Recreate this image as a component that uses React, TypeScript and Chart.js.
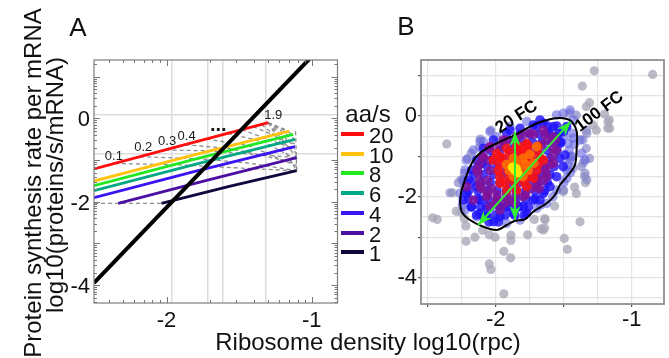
import React, { useEffect, useRef } from 'react';
import { Chart, registerables } from 'chart.js';

Chart.register(...registerables);

const FONT = '"Liberation Sans", Arial, Helvetica, sans-serif';
type P = [number, number];

// ---------------- Panel A data ----------------
const rateLabels = ['20', '10', '8', '6', '4', '2', '1'];
const rateColors = ['#ff0d0d', '#ffc20e', '#22e822', '#00a884', '#3a14f2', '#4b0fa2', '#12073c'];

const curveAA20: P[] = [[-2.5, -1.215], [-1.899, -0.655], [-1.299, -0.104]];
const curveAA10: P[] = [[-2.5, -1.504], [-1.831, -0.894], [-1.155, -0.304]];
const curveAA8: P[] = [[-2.5, -1.613], [-1.811, -0.986], [-1.127, -0.385]];
const curveAA6: P[] = [[-2.5, -1.735], [-1.811, -1.108], [-1.115, -0.505]];
const curveAA4: P[] = [[-2.5, -1.903], [-1.811, -1.276], [-1.115, -0.68]];
const curveAA2: P[] = [[-2.333, -2.041], [-1.724, -1.49], [-1.103, -0.94]];
const curveAA1: P[] = [[-2.035, -2.041], [-1.568, -1.633], [-1.103, -1.256]];
const curvesA = [curveAA20, curveAA10, curveAA8, curveAA6, curveAA4, curveAA2, curveAA1];

const isoLines: P[][] = [
  [[-2.5, -2.041], [-2.035, -2.041]],
  [[-2.356, -1.083], [-1.918, -1.113], [-1.481, -1.195], [-1.103, -1.256]],
  [[-2.181, -0.92], [-1.772, -0.971], [-1.432, -1.073], [-1.103, -1.256]],
  [[-2.006, -0.757], [-1.724, -0.777], [-1.384, -0.869], [-1.103, -0.94]],
  [[-1.87, -0.634], [-1.578, -0.716], [-1.335, -0.889], [-1.103, -1.093]],
  [[-1.724, -0.497], [-1.432, -0.655], [-1.103, -1.144]],
  [[-1.578, -0.362], [-1.335, -0.553], [-1.103, -0.991]],
  [[-1.481, -0.273], [-1.115, -0.736]],
  [[-1.403, -0.201], [-1.115, -0.614]],
  [[-1.345, -0.147], [-1.103, -0.838]],
  [[-1.299, -0.104], [-1.155, -0.304]],
  [[-1.299, -0.104], [-1.127, -0.385]],
  [[-1.299, -0.104], [-1.115, -0.505]],
  [[-1.299, -0.104], [-1.115, -0.68]],
  [[-1.299, -0.104], [-1.103, -0.94]],
  [[-1.299, -0.104], [-1.103, -1.256]],
  [[-1.111, -0.308], [-1.103, -1.256]],
];
const limitLine: P[] = [[-2.5, -3.947], [-0.994, 1.503]];

const isoLabels = ['0.1', '0.2', '0.3', '0.4', '...', '1.9'];
const isoLabelX = [-2.363, -2.161, -1.996, -1.862, -1.644, -1.265];
const isoLabelY = [-0.921, -0.705, -0.561, -0.441, -0.173, 0.079];

const xLabelsA = [-2, -1];
const yLabelsA = [0, -2, -4];
const xGridA = [-1.966, -1.713, -1.614, -1.315];
const yGridA = [0.079, -0.839];
const minorSteps = [2, 3, 4, 5, 6, 7, 8, 9];

// ---------------- Panel B data ----------------
const grayFar: P[] = [
  [-1.275, 1.12], [-0.846, 1.03], [-1.363, 0.74], [-2.36, -0.69],
  [-1.31, 0.33], [-1.334, 0.23], [-1.174, -0.14], [-1.162, -0.305], [-1.26, -0.35], [-1.285, -0.22],
  [-1.177, -0.3], [-1.165, -0.1], [-1.2, 0.05],
  [-1.503, -1.87], [-1.38, -2.62], [-1.496, -3.03], [-1.473, -3.3], [-1.65, -2.82], [-1.637, -2.57],
  [-1.42, -1.76], [-1.407, -1.92], [-1.34, -1.65], [-1.566, -2.23], [-1.64, -2.54], [-1.64, -2.77],
  [-2.463, -2.52], [-2.43, -2.56], [-2.29, -2.36], [-2.317, -1.9], [-2.218, -2.72], [-2.218, -3.1],
  [-2.152, -3.0], [-2.047, -2.94], [-2.005, -3.0], [-1.888, -2.95], [-1.888, -3.08], [-1.765, -2.94],
  [-1.94, -3.35], [-1.89, -3.51], [-2.047, -3.66], [-2.035, -3.8], [-1.94, -4.4], [-1.716, -2.56],
  [-1.667, -2.79], [-2.096, -2.83], [-2.23, -2.54], [-2.254, -2.38],
];
const grayNear: P[] = [
  [-1.407, 0.02], [-1.456, 0.07], [-1.334, -0.35], [-1.358, -0.59], [-1.334, -0.8], [-1.31, -1.05],
  [-1.37, -1.25], [-1.346, -1.5], [-1.33, -0.43], [-1.356, -1.16], [-1.343, -1.42], [-1.33, -1.58],
  [-1.45, -1.0], [-1.43, -1.29], [-1.5, -1.84],
  [-2.035, -0.35], [-2.113, -0.57], [-2.18, -0.92], [-2.12, -0.78], [-2.206, -1.05], [-2.23, -1.42],
  [-2.254, -1.58], [-2.238, -1.58], [-2.275, -1.65], [-2.336, -1.9],
];
const lavenderPts: P[] = [
  [-1.478, -1.337], [-1.453, -1.089], [-1.466, -0.677], [-1.441, -0.429], [-1.478, -1.543], [-1.552, -1.832],
  [-1.625, -2.162], [-1.699, -2.285], [-1.821, -2.574], [-1.919, -2.657], [-2.14, -2.492], [-2.226, -2.327],
  [-2.262, -1.914], [-2.164, -0.842], [-2.091, -0.635], [-1.993, -0.512], [-1.895, -0.264], [-1.772, -0.14],
  [-1.429, -0.099], [-2.226, -1.337], [-2.238, -1.584], [-2.214, -1.089], [-1.503, 0.066], [-1.552, 0.025],
  [-1.453, 0.148], [-1.38, -0.594], [-1.368, -0.924], [-1.343, -1.09], [-2.115, -0.635], [-2.042, -0.388],
  [-1.46, -0.85], [-1.47, -1.2], [-1.5, -0.5], [-1.48, -0.3], [-1.42, -0.7], [-1.44, -1.0],
  [-1.43, -0.55], [-1.45, -1.4], [-1.5, -1.65], [-1.58, -2.0], [-1.67, -2.2], [-2.245, -2.2], [-2.23, -1.75],
];
const bluePts: P[] = [
  [-1.723, -0.223], [-1.65, -0.182], [-1.576, -0.264], [-1.503, -0.388], [-1.527, -0.677], [-1.49, -0.966],
  [-1.821, -0.305], [-1.919, -0.429], [-2.017, -0.594], [-2.091, -0.8], [-2.14, -1.089], [-2.177, -1.337],
  [-2.201, -1.584], [-2.214, -1.914], [-2.177, -2.244], [-2.115, -2.409], [-2.066, -2.492], [-1.968, -2.492],
  [-1.87, -2.409], [-1.797, -2.244], [-1.723, -2.079], [-1.65, -1.914], [-1.601, -1.749], [-1.552, -1.502],
  [-1.503, -1.254], [-1.613, -0.388], [-2.238, -2.079], [-2.091, -2.492], [-2.017, -2.616], [-1.919, -2.244],
  [-1.833, -2.244], [-1.674, -2.079], [-1.772, -2.409], [-2.115, -2.079], [-2.103, -1.172], [-1.674, -0.099],
  [-1.478, -0.264], [-1.552, -0.512], [-2.14, -1.749], [-2.066, -2.244], [-1.968, -2.244], [-1.895, -0.347],
];
const blueFill: P[] = [
  [-1.70, -0.25], [-1.62, -0.25], [-1.55, -0.25],
  [-1.82, -0.45], [-1.75, -0.45], [-1.68, -0.45], [-1.61, -0.45], [-1.54, -0.45],
  [-1.94, -0.65], [-1.87, -0.65], [-1.80, -0.65], [-1.73, -0.65], [-1.66, -0.65], [-1.59, -0.65], [-1.52, -0.65],
  [-2.04, -0.85], [-1.97, -0.85], [-1.90, -0.85], [-1.83, -0.85], [-1.76, -0.85], [-1.69, -0.85], [-1.62, -0.85], [-1.55, -0.85],
  [-2.09, -1.05], [-2.02, -1.05], [-1.95, -1.05], [-1.88, -1.05], [-1.81, -1.05], [-1.74, -1.05], [-1.67, -1.05], [-1.60, -1.05], [-1.53, -1.05],
  [-2.13, -1.25], [-2.06, -1.25], [-1.99, -1.25], [-1.92, -1.25], [-1.85, -1.25], [-1.78, -1.25], [-1.71, -1.25], [-1.64, -1.25], [-1.57, -1.25],
  [-2.16, -1.45], [-2.09, -1.45], [-2.02, -1.45], [-1.95, -1.45], [-1.88, -1.45], [-1.81, -1.45], [-1.74, -1.45], [-1.67, -1.45], [-1.60, -1.45],
  [-2.18, -1.65], [-2.11, -1.65], [-2.04, -1.65], [-1.97, -1.65], [-1.90, -1.65], [-1.83, -1.65], [-1.76, -1.65], [-1.69, -1.65], [-1.62, -1.65],
  [-2.20, -1.85], [-2.13, -1.85], [-2.06, -1.85], [-1.99, -1.85], [-1.92, -1.85], [-1.85, -1.85], [-1.78, -1.85], [-1.71, -1.85], [-1.64, -1.85],
  [-2.20, -2.05], [-2.13, -2.05], [-2.06, -2.05], [-1.99, -2.05], [-1.92, -2.05], [-1.85, -2.05], [-1.78, -2.05], [-1.71, -2.05],
  [-2.18, -2.25], [-2.11, -2.25], [-2.04, -2.25], [-1.97, -2.25], [-1.90, -2.25], [-1.83, -2.25], [-1.76, -2.25],
  [-2.14, -2.45], [-2.07, -2.45], [-2.00, -2.45], [-1.93, -2.45], [-1.86, -2.45], [-1.79, -2.45],
  [-2.05, -2.62], [-1.98, -2.62],
];
const purplePts: P[] = [
  [-2.14, -1.337], [-2.115, -1.749], [-2.066, -1.997], [-1.993, -2.079], [-1.895, -2.079], [-1.797, -1.997],
  [-1.699, -1.749], [-1.625, -1.502], [-1.576, -1.172], [-1.552, -0.842], [-1.576, -0.512], [-1.65, -0.347],
  [-1.748, -0.429], [-1.846, -0.512], [-1.944, -0.594], [-2.042, -0.759], [-2.091, -1.007], [-2.214, -1.749],
  [-2.164, -2.079], [-2.042, -2.244], [-1.968, -2.327],
];
const purpleFill: P[] = [
  [-1.80, -0.45], [-1.72, -0.45], [-1.64, -0.45],
  [-1.92, -0.6], [-1.85, -0.6], [-1.62, -0.6], [-1.56, -0.6],
  [-2.05, -0.8], [-1.58, -0.8], [-2.10, -1.0], [-1.58, -1.0], [-2.12, -1.2], [-1.60, -1.2],
  [-2.13, -1.4], [-1.63, -1.4], [-2.12, -1.6], [-2.06, -1.6], [-1.70, -1.6], [-1.65, -1.6],
  [-2.10, -1.8], [-2.03, -1.8], [-1.74, -1.8], [-1.68, -1.8],
  [-2.06, -1.95], [-1.99, -1.95], [-1.92, -1.95], [-1.85, -1.95], [-1.78, -1.95],
  [-2.0, -2.15], [-1.93, -2.15], [-1.86, -2.15],
  [-2.04, -1.35], [-2.05, -1.1], [-1.97, -0.75], [-1.66, -0.7], [-1.64, -1.3], [-1.70, -1.5],
];
const redPts: P[] = [
  [-2.017, -1.089], [-1.993, -0.924], [-1.919, -0.8], [-1.846, -0.759], [-1.772, -0.677],
  [-1.65, -1.089], [-1.723, -1.543], [-1.772, -1.749], [-1.846, -1.832], [-1.919, -1.832],
  [-1.968, -1.667], [-1.968, -1.007], [-1.797, -0.842],
];
const redFill: P[] = [
  [-1.83, -0.75], [-1.76, -0.75], [-1.69, -0.75],
  [-1.90, -0.9], [-1.83, -0.9], [-1.76, -0.9], [-1.69, -0.9],
  [-1.95, -1.05], [-1.88, -1.05], [-1.81, -1.05], [-1.74, -1.05], [-1.67, -1.05],
  [-1.97, -1.2], [-1.90, -1.2], [-1.83, -1.2], [-1.76, -1.2], [-1.69, -1.2],
  [-1.98, -1.35], [-1.91, -1.35], [-1.84, -1.35], [-1.77, -1.35], [-1.70, -1.35],
  [-1.97, -1.5], [-1.90, -1.5], [-1.83, -1.5], [-1.76, -1.5],
  [-1.93, -1.65], [-1.86, -1.65], [-1.79, -1.65],
];
const orangePts: P[] = [
  [-1.87, -1.05], [-1.80, -1.05], [-1.92, -1.2], [-1.85, -1.2], [-1.78, -1.2], [-1.90, -1.35],
  [-1.83, -1.35], [-1.76, -1.35], [-1.87, -1.5], [-1.80, -1.5], [-1.72, -1.17], [-1.699, -0.759], [-1.75, -0.95],
];
const yellowPts: P[] = [[-1.858, -1.34], [-1.875, -1.27], [-1.84, -1.41], [-1.85, -1.3]];

const contourB: P[] = [
  [-2.2625, -2.121], [-2.25, -1.832], [-2.176, -1.171], [-2.103, -0.884], [-1.968, -0.636], [-1.858, -0.47],
  [-1.724, -0.223], [-1.601, -0.082], [-1.503, -0.057], [-1.441, -0.141], [-1.404, -0.389], [-1.404, -0.76],
  [-1.417, -1.213], [-1.466, -1.46], [-1.527, -1.708], [-1.564, -1.955], [-1.625, -2.161], [-1.724, -2.369],
  [-1.785, -2.557], [-1.858, -2.592], [-1.919, -2.698], [-1.993, -2.822], [-2.091, -2.74], [-2.189, -2.574],
  [-2.25, -2.369], [-2.2625, -2.121],
];
const arrowV: P[] = [[-1.858, -0.389], [-1.858, -2.574]];
const arrowD: P[] = [[-2.128, -2.698], [-1.449, -0.141]];

const fcLabels = ['20 FC', '100 FC'];
const fcLabelX = [-1.846, -1.238];
const fcLabelY = [-0.03, 0.106];
const fcLabelAngle = [-33, -37];

const xGridB = [-2.5, -2.25, -2, -1.75, -1.5, -1.25, -1];
const xMarksB = [-2.5, -2, -1.5, -1];
const xLabelsB = [-2, -1];
const yGridB = [1, 0.5, 0, -0.5, -1, -1.5, -2, -2.5, -3, -3.5, -4, -4.5];
const yMarksB = [1, 0, -1, -2, -3, -4];
const yLabelsB = [0, -2, -4];

// ---------------- helpers ----------------
const xy = (pts: P[]) => pts.map(([x, y]) => ({ x, y }));
const near = (arr: number[], v: any) => typeof v === 'number' && arr.some((a) => Math.abs(a - v) < 1e-6);

const lineDs = (pts: P[], color: string, width: number, order: number, dash: number[] = [], extra: any = {}) => ({
  data: xy(pts),
  showLine: true,
  borderColor: color,
  backgroundColor: color,
  borderWidth: width,
  borderDash: dash,
  pointRadius: 0,
  pointHoverRadius: 0,
  order,
  clip: 0,
  tension: 0,
  ...extra,
});

const pointDs = (pts: P[], color: string, order: number, r = 4.8) => ({
  data: xy(pts),
  showLine: false,
  backgroundColor: color,
  borderWidth: 0,
  pointRadius: r,
  pointHoverRadius: r,
  order,
});

const annotA = {
  id: 'annotA',
  afterDatasetsDraw(chart: any) {
    const { ctx, chartArea, scales } = chart;
    const { left, top, right, bottom } = chartArea;
    const x = scales.x;
    const y = scales.y;
    ctx.save();
    ctx.fillStyle = '#1a1a1a';
    ctx.textAlign = 'center';
    ctx.textBaseline = 'middle';
    isoLabels.forEach((t, i) => {
      ctx.font = t === '...' ? `bold 20px ${FONT}` : `13px ${FONT}`;
      ctx.fillText(t, x.getPixelForValue(isoLabelX[i]), y.getPixelForValue(isoLabelY[i]));
    });
    ctx.strokeStyle = '#7d7d7d';
    ctx.lineWidth = 1.2;
    ctx.strokeRect(left, top, right - left, bottom - top);
    const marks = (min: number, max: number) => {
      const out: [number, number][] = [];
      for (let n = Math.floor(min) - 1; n <= Math.ceil(max); n++) {
        if (n >= min && n <= max) out.push([n, 6]);
        for (const k of minorSteps) {
          const v = n + Math.log10(k);
          if (v >= min && v <= max) out.push([v, 3]);
        }
      }
      return out;
    };
    ctx.strokeStyle = '#777';
    ctx.lineWidth = 1;
    ctx.beginPath();
    for (const [v, len] of marks(x.min, x.max)) {
      const px = Math.round(x.getPixelForValue(v)) + 0.5;
      ctx.moveTo(px, bottom); ctx.lineTo(px, bottom - len);
      ctx.moveTo(px, top); ctx.lineTo(px, top + len);
    }
    for (const [v, len] of marks(y.min, y.max)) {
      const py = Math.round(y.getPixelForValue(v)) + 0.5;
      ctx.moveTo(left, py); ctx.lineTo(left + len, py);
      ctx.moveTo(right, py); ctx.lineTo(right - len, py);
    }
    ctx.stroke();
    ctx.restore();
  },
};

const annotB = {
  id: 'annotB',
  afterDatasetsDraw(chart: any) {
    const { ctx, chartArea, scales } = chart;
    const { left, top, right, bottom } = chartArea;
    ctx.save();
    chart.data.datasets.forEach((ds: any, i: number) => {
      if (!ds.arrow) return;
      const pts = chart.getDatasetMeta(i).data;
      const a = pts[0];
      const b = pts[pts.length - 1];
      const head = (tx: number, ty: number, dx: number, dy: number) => {
        const len = Math.hypot(dx, dy) || 1;
        const ux = dx / len, uy = dy / len;
        const L = 14, W = 5.5;
        const bx = tx - ux * L, by = ty - uy * L;
        const nx = bx + ux * 4, ny = by + uy * 4;
        ctx.beginPath();
        ctx.moveTo(tx, ty);
        ctx.lineTo(bx - uy * W, by + ux * W);
        ctx.lineTo(nx, ny);
        ctx.lineTo(bx + uy * W, by - ux * W);
        ctx.closePath();
        ctx.fillStyle = ds.borderColor;
        ctx.fill();
      };
      head(b.x, b.y, b.x - a.x, b.y - a.y);
      head(a.x, a.y, a.x - b.x, a.y - b.y);
    });
    ctx.fillStyle = '#000';
    ctx.font = `bold 17px ${FONT}`;
    ctx.textAlign = 'center';
    ctx.textBaseline = 'middle';
    fcLabels.forEach((t, i) => {
      ctx.save();
      ctx.translate(scales.x.getPixelForValue(fcLabelX[i]), scales.y.getPixelForValue(fcLabelY[i]));
      ctx.rotate((fcLabelAngle[i] * Math.PI) / 180);
      ctx.fillText(t, 0, 0);
      ctx.restore();
    });
    ctx.strokeStyle = '#8f8f8f';
    ctx.lineWidth = 1.8;
    ctx.strokeRect(left, top, right - left, bottom - top);
    ctx.restore();
  },
};

function makeChartA(canvas: HTMLCanvasElement) {
  const datasets: any[] = [
    ...isoLines.map((p) => lineDs(p, '#8d8d8d', 1.3, 10, [4, 3])),
    ...curvesA.map((p, i) => lineDs(p, rateColors[i], 2.8, 5, [], { label: rateLabels[i] })),
    lineDs(limitLine, '#000000', 4, 0),
  ];
  return new Chart(canvas, {
    type: 'scatter',
    data: { datasets },
    options: {
      responsive: false,
      animation: false,
      events: [],
      layout: { padding: { left: 0, right: 42.5, top: 60, bottom: 15 } },
      plugins: { legend: { display: false }, tooltip: { enabled: false } },
      scales: {
        x: {
          type: 'linear',
          min: -2.5,
          max: -0.822,
          afterBuildTicks: (s: any) => {
            s.ticks = [...xLabelsA, ...xGridA].sort((a, b) => a - b).map((v) => ({ value: v }));
          },
          afterFit: (s: any) => { s.height = 40; },
          grid: {
            color: (c: any) => (near(xGridA, c.tick?.value) ? '#dcdcdc' : 'rgba(0,0,0,0)'),
            lineWidth: 1.5,
            drawTicks: false,
          },
          border: { display: false },
          ticks: {
            autoSkip: false,
            maxRotation: 0,
            padding: 5,
            color: '#111',
            font: { family: FONT, size: 22 },
            callback: (v: any) => (near(xLabelsA, v) ? String(v) : ''),
          },
        },
        y: {
          type: 'linear',
          min: -4.429,
          max: 1.4,
          afterBuildTicks: (s: any) => {
            s.ticks = [...yLabelsA, ...yGridA].sort((a, b) => a - b).map((v) => ({ value: v }));
          },
          afterFit: (s: any) => { s.width = 94; },
          grid: {
            color: (c: any) => (near(yGridA, c.tick?.value) ? '#dcdcdc' : 'rgba(0,0,0,0)'),
            lineWidth: 1.5,
            drawTicks: false,
          },
          border: { display: false },
          ticks: {
            autoSkip: false,
            padding: 4,
            labelOffset: 2,
            color: '#111',
            font: { family: FONT, size: 22 },
            callback: (v: any) => (near(yLabelsA, v) ? String(v) : ''),
          },
        },
      },
    } as any,
    plugins: [annotA],
  });
}

function makeChartB(canvas: HTMLCanvasElement) {
  const datasets: any[] = [
    pointDs(grayFar, 'rgba(168,168,184,0.78)', 12, 4.6),
    pointDs(grayNear, 'rgba(140,140,200,0.72)', 11, 4.6),
    pointDs(lavenderPts, 'rgba(100,100,225,0.6)', 10),
    pointDs([...bluePts, ...blueFill], 'rgba(30,18,250,0.82)', 9),
    pointDs([...purplePts, ...purpleFill], 'rgba(130,18,150,0.82)', 8),
    pointDs([...redPts, ...redFill], 'rgba(250,18,18,0.88)', 7),
    pointDs(orangePts, 'rgba(255,115,0,0.85)', 6),
    pointDs(yellowPts, 'rgba(255,228,0,1)', 5),
    lineDs(contourB, '#000000', 2, 3, [], { tension: 0.3 }),
    lineDs(arrowV, '#33ee33', 2, 2, [], { arrow: true }),
    lineDs(arrowD, '#33ee33', 2, 2, [], { arrow: true }),
  ];
  return new Chart(canvas, {
    type: 'scatter',
    data: { datasets },
    options: {
      responsive: false,
      animation: false,
      events: [],
      layout: { padding: { left: 0, right: 5, top: 60, bottom: 14 } },
      plugins: { legend: { display: false }, tooltip: { enabled: false } },
      scales: {
        x: {
          type: 'linear',
          min: -2.549,
          max: -0.7625,
          afterBuildTicks: (s: any) => { s.ticks = xGridB.map((v) => ({ value: v })); },
          afterFit: (s: any) => { s.height = 40; },
          grid: {
            color: '#e3e3e3',
            lineWidth: 1.2,
            drawTicks: true,
            tickLength: 3,
            tickWidth: 1.2,
            tickColor: (c: any) => (near(xMarksB, c.tick?.value) ? '#555' : 'rgba(0,0,0,0)'),
          },
          border: { display: false },
          ticks: {
            autoSkip: false,
            maxRotation: 0,
            padding: 0,
            color: '#111',
            font: { family: FONT, size: 22 },
            callback: (v: any) => (near(xLabelsB, v) ? String(v) : ''),
          },
        },
        y: {
          type: 'linear',
          min: -4.653,
          max: 1.386,
          afterBuildTicks: (s: any) => { s.ticks = yGridB.map((v) => ({ value: v })); },
          afterFit: (s: any) => { s.width = 41; },
          grid: {
            color: '#e3e3e3',
            lineWidth: 1.2,
            drawTicks: true,
            tickLength: 3,
            tickWidth: 1.2,
            tickColor: (c: any) => (near(yMarksB, c.tick?.value) ? '#555' : 'rgba(0,0,0,0)'),
          },
          border: { display: false },
          ticks: {
            autoSkip: false,
            padding: 1,
            color: '#111',
            font: { family: FONT, size: 22 },
            callback: (v: any) => (near(yLabelsB, v) ? String(v) : ''),
          },
        },
      },
    } as any,
    plugins: [annotB],
  });
}

const Txt = ({ x, y, size, rot = 0, bold = false, children }: any) => (
  <div
    style={{
      position: 'absolute',
      left: x,
      top: y,
      transform: `translate(-50%, -50%) rotate(${rot}deg)`,
      fontFamily: FONT,
      fontSize: size,
      lineHeight: 1,
      whiteSpace: 'nowrap',
      fontWeight: bold ? 'bold' : 'normal',
      color: '#111',
    }}
  >
    {children}
  </div>
);

export default function App() {
  const refA = useRef<HTMLCanvasElement>(null);
  const refB = useRef<HTMLCanvasElement>(null);

  useEffect(() => {
    const a = makeChartA(refA.current!);
    const b = makeChartB(refB.current!);
    return () => {
      a.destroy();
      b.destroy();
    };
  }, []);

  return (
    <div style={{ position: 'absolute', left: 0, top: 0, width: 669, height: 358, overflow: 'hidden', background: '#fff' }}>
      <canvas ref={refA} width={380} height={358} style={{ position: 'absolute', left: 0, top: 0, width: 380, height: 358 }} />
      <canvas ref={refB} width={289} height={358} style={{ position: 'absolute', left: 380, top: 0, width: 289, height: 358 }} />
      <Txt x={78} y={27} size={26}>A</Txt>
      <Txt x={406} y={26} size={26}>B</Txt>
      <Txt x={33} y={183} size={24} rot={-90}>Protein synthesis rate per mRNA</Txt>
      <Txt x={55} y={185} size={24} rot={-90}>log10(proteins/s/mRNA)</Txt>
      <Txt x={368} y={342} size={24}>Ribosome density log10(rpc)</Txt>
      <Txt x={368} y={114} size={24}>aa/s</Txt>
      {rateLabels.map((lab, i) => (
        <React.Fragment key={lab}>
          <div
            style={{
              position: 'absolute',
              left: 341,
              top: 134 + i * 19.7 - 2,
              width: 23,
              height: 4,
              background: rateColors[i],
            }}
          />
          <div
            style={{
              position: 'absolute',
              left: 369,
              top: 136 + i * 19.7,
              transform: 'translateY(-50%)',
              fontFamily: FONT,
              fontSize: 22,
              lineHeight: 1,
              color: '#111',
            }}
          >
            {lab}
          </div>
        </React.Fragment>
      ))}
    </div>
  );
}
